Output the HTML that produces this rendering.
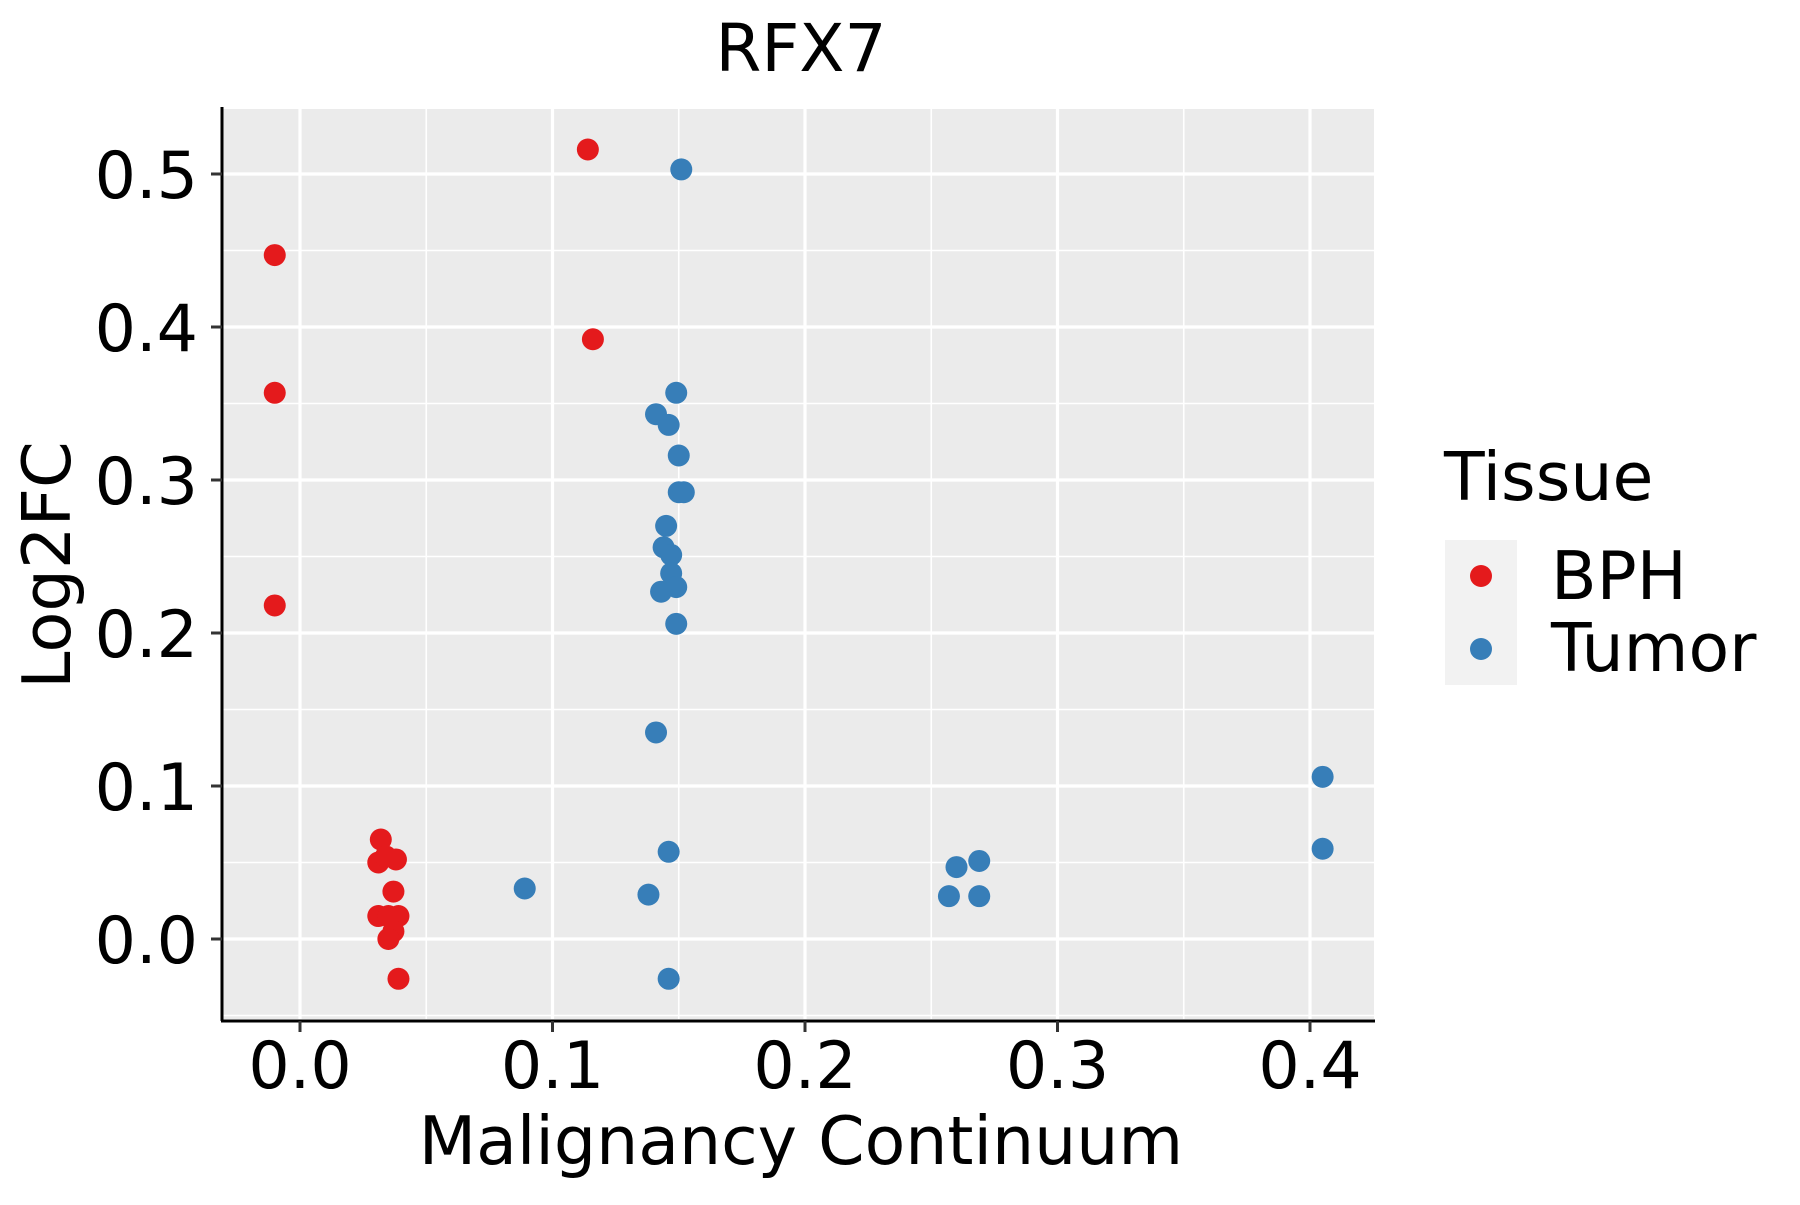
<!DOCTYPE html>
<html><head><meta charset="utf-8"><style>
html,body{margin:0;padding:0;background:#fff;}
svg text{font-family:"DejaVu Sans","Liberation Sans",sans-serif;}
</style></head><body>
<svg id="chart" width="1800" height="1200" viewBox="0 0 1800 1200" xmlns="http://www.w3.org/2000/svg">
<rect x="222" y="109" width="1152" height="910" fill="#EBEBEB"/>
<g id="grid"></g>
<g id="pts"></g>
<line x1="222" y1="107" x2="222" y2="1021" stroke="#000" stroke-width="3"/>
<line x1="221" y1="1021" x2="1375" y2="1021" stroke="#000" stroke-width="3"/>
<g id="ticks"></g>
<text x="801" y="71" font-size="66" text-anchor="middle">RFX7</text>
<text x="801" y="1164" font-size="66.5" text-anchor="middle">Malignancy Continuum</text>
<text transform="translate(70,565) rotate(-90)" font-size="67" text-anchor="middle">Log2FC</text>
<g>
<text x="1444" y="500" font-size="66.5">Tissue</text>
<rect x="1445" y="540" width="72" height="145" fill="#F2F2F2"/>
<g><circle cx="1481" cy="576" r="11" fill="#E41A1C"/><text x="1551" y="599" font-size="66.5">BPH</text></g>
<g><circle cx="1481" cy="649" r="11" fill="#377EB8"/><text x="1551" y="671" font-size="66.5">Tumor</text></g>
</g>
</svg>
<script>
const xTicks=[0.0,0.1,0.2,0.3,0.4];
const yTicks=[0.0,0.1,0.2,0.3,0.4,0.5];
const xTickLabels=["0.0","0.1","0.2","0.3","0.4"];
const yTickLabels=["0.0","0.1","0.2","0.3","0.4","0.5"];
const bphX=[-0.010,-0.010,-0.010,0.114,0.116,0.032,0.031,0.034,0.038,0.037,0.031,0.035,0.039,0.037,0.035,0.039];
const bphY=[0.447,0.357,0.218,0.516,0.392,0.065,0.050,0.054,0.052,0.031,0.015,0.015,0.015,0.005,0.0,-0.026];
const tumorX=[0.151,0.149,0.141,0.146,0.150,0.150,0.152,0.145,0.144,0.147,0.147,0.149,0.143,0.149,0.141,0.146,0.089,0.138,0.146,0.260,0.269,0.257,0.269,0.405,0.405];
const tumorY=[0.503,0.357,0.343,0.336,0.316,0.292,0.292,0.270,0.256,0.251,0.239,0.230,0.227,0.206,0.135,0.057,0.033,0.029,-0.026,0.047,0.051,0.028,0.028,0.106,0.059];
const NS="http://www.w3.org/2000/svg";
function sx(v){return 300+v*2525;}
function sy(v){return 939-v*1530;}
const L=222,R=1374,T=109,B=1019;
const grid=document.getElementById('grid'),ticks=document.getElementById('ticks'),pts=document.getElementById('pts');
function line(p,x1,y1,x2,y2,w,c,name){const l=document.createElementNS(NS,'line');l.setAttribute('x1',x1);l.setAttribute('y1',y1);l.setAttribute('x2',x2);l.setAttribute('y2',y2);l.setAttribute('stroke',c);l.setAttribute('stroke-width',w);


p.appendChild(l);}
function text(p,x,y,s,anchor,name){const t=document.createElementNS(NS,'text');t.setAttribute('x',x);t.setAttribute('y',y);t.setAttribute('font-size','65');t.setAttribute('text-anchor',anchor);t.textContent=s;


p.appendChild(t);}
for(let i=0;i<xTicks.length;i++){const m=xTicks[i]-0.05;const xm=sx(m);if(xm>L&&xm<R)line(grid,xm,T,xm,B,1.6,'#fff','x-minor-gridline');}
{const xm=sx(xTicks[xTicks.length-1]+0.05);if(xm<R)line(grid,xm,T,xm,B,1.6,'#fff','x-minor-gridline');}
for(let i=0;i<yTicks.length;i++){const ym=sy(yTicks[i]-0.05);if(ym<B&&ym>T)line(grid,L,ym,R,ym,1.6,'#fff','y-minor-gridline');}
{const ym=sy(yTicks[yTicks.length-1]+0.05);if(ym>T)line(grid,L,ym,R,ym,1.6,'#fff','y-minor-gridline');}
xTicks.forEach((v,i)=>{const x=sx(v);line(grid,x,T,x,B,3.2,'#fff','x-major-gridline');line(ticks,x,1021,x,1032,3,'#333','x-tick');text(ticks,x,1088,xTickLabels[i],'middle','x-tick-label');});
yTicks.forEach((v,i)=>{const y=sy(v);line(grid,L,y,R,y,3.2,'#fff','y-major-gridline');line(ticks,211,y,222,y,3,'#333','y-tick');text(ticks,198,y+24,yTickLabels[i],'end','y-tick-label');});
function dot(x,y,c,name){const d=document.createElementNS(NS,'circle');d.setAttribute('cx',sx(x));d.setAttribute('cy',sy(y));d.setAttribute('r',11);d.setAttribute('fill',c);


pts.appendChild(d);}
bphX.forEach((x,i)=>dot(x,bphY[i],'#E41A1C','bph-point'));
tumorX.forEach((x,i)=>dot(x,tumorY[i],'#377EB8','tumor-point'));
</script>
</body></html>
